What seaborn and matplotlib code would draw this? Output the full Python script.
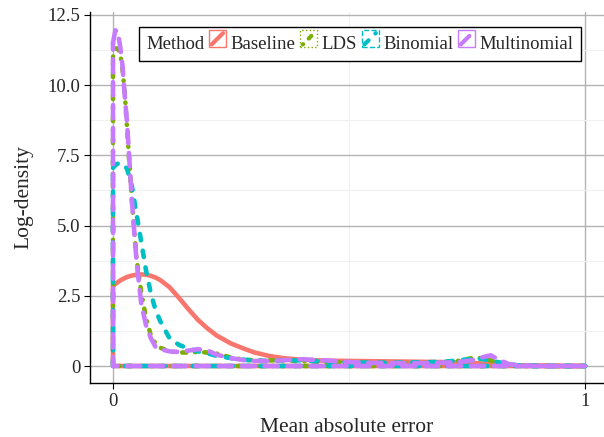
import numpy as np
import pandas as pd
import matplotlib
matplotlib.use("Agg")
import matplotlib.pyplot as plt
import seaborn as sns
from matplotlib.legend_handler import HandlerBase
from matplotlib.patches import Rectangle
from matplotlib.lines import Line2D

# density estimates, one value per grid point
mae_grid = [0, 0.005, 0.01, 0.015, 0.02, 0.025, 0.03, 0.04, 0.05, 0.06, 0.07, 0.08,
            0.09, 0.1, 0.12, 0.14, 0.16, 0.18, 0.2, 0.22, 0.25, 0.28, 0.3, 0.33, 0.36,
            0.4, 0.45, 0.5, 0.55, 0.6, 0.65, 0.7, 0.73, 0.76, 0.78, 0.8, 0.82, 0.84,
            0.86, 0.9, 0.95, 1.0]
baseline = [2.85, 2.92, 2.98, 3.04, 3.09, 3.13, 3.17, 3.22, 3.25, 3.26, 3.25, 3.21,
            3.15, 3.06, 2.8, 2.42, 2.02, 1.64, 1.34, 1.08, 0.8, 0.6, 0.48, 0.36, 0.28,
            0.22, 0.19, 0.18, 0.17, 0.16, 0.15, 0.14, 0.13, 0.11, 0.09, 0.07, 0.05, 0.03,
            0.02, 0.01, 0.0, 0.0]
lds = [11.0, 11.3, 11.3, 11.15, 10.6, 9.7, 8.4, 5.9, 3.8, 2.6, 1.7, 1.1,
       0.8, 0.65, 0.52, 0.48, 0.48, 0.5, 0.48, 0.44, 0.3, 0.22, 0.2, 0.2, 0.2,
       0.18, 0.14, 0.12, 0.11, 0.1, 0.1, 0.12, 0.18, 0.28, 0.28, 0.2, 0.12, 0.05,
       0.02, 0.0, 0.0, 0.0]
binomial = [7.05, 7.15, 7.2, 7.22, 7.2, 7.15, 7.0, 6.4, 5.4, 4.4, 3.4, 2.6,
            2.0, 1.6, 0.98, 0.75, 0.62, 0.52, 0.45, 0.36, 0.28, 0.22, 0.2, 0.18, 0.2,
            0.2, 0.16, 0.13, 0.12, 0.12, 0.13, 0.15, 0.2, 0.25, 0.25, 0.2, 0.12, 0.06,
            0.02, 0.0, 0.0, 0.0]
multinomial = [11.5, 11.95, 11.9, 11.4, 10.7, 9.6, 8.6, 5.9, 3.7, 2.2, 1.45, 1.0,
               0.68, 0.6, 0.52, 0.5, 0.55, 0.6, 0.55, 0.4, 0.28, 0.2, 0.18, 0.18, 0.2,
               0.24, 0.2, 0.14, 0.11, 0.1, 0.1, 0.12, 0.14, 0.2, 0.3, 0.38, 0.2, 0.06,
               0.02, 0.0, 0.0, 0.0]

methods = ["Baseline", "LDS", "Binomial", "Multinomial"]
colors = ["#F8766D", "#7CAE00", "#00BFC4", "#C77CFF"]
dash_styles = {"Baseline": "", "LDS": (0.1, 1.9, 0.9, 1.9),
               "Binomial": (1.4, 2.3), "Multinomial": (2.9, 2.1)}
key_edge = {"Baseline": "-", "LDS": ":", "Binomial": "--", "Multinomial": "-"}

# closed outline like ggplot's geom_density: curve, then back along y=0
rows = []
for m, dens in zip(methods, [baseline, lds, binomial, multinomial]):
    xs = list(mae_grid) + [mae_grid[-1], mae_grid[0], mae_grid[0]]
    ys = list(dens) + [0, 0, dens[0]]
    for i, (a, b) in enumerate(zip(xs, ys)):
        rows.append((m, i, a, b))
df = pd.DataFrame(rows, columns=["Method", "order", "mae", "density"])

sns.set_style("white")
plt.rcParams['font.family'] = ['Liberation Serif', 'DejaVu Serif']
plt.rcParams['lines.dash_capstyle'] = 'round'
plt.rcParams['lines.solid_capstyle'] = 'round'

fig = plt.figure(figsize=(6.04, 4.37), dpi=100)
ax = fig.add_axes([90 / 604, 1 - 383 / 437, 514 / 604, 371 / 437])

sns.lineplot(data=df, x="mae", y="density", hue="Method", style="Method",
             hue_order=methods, style_order=methods, palette=colors,
             dashes=dash_styles, sort=False, estimator=None, linewidth=3.3,
             legend=False, ax=ax)

ax.set_xlim(-0.0487, 1.04)
ax.set_ylim(-0.605, 12.6)
ax.set_xticks([0, 1])
ax.set_xticklabels(["0", "1"])
ax.set_xticks([0.5], minor=True)
ax.set_yticks([0, 2.5, 5, 7.5, 10, 12.5])
ax.set_yticklabels(["0", "2.5", "5.0", "7.5", "10.0", "12.5"])
ax.set_yticks([1.25, 3.75, 6.25, 8.75, 11.25], minor=True)
ax.grid(which="major", color="#b3b3b3", lw=1.0)
ax.grid(which="minor", color="#f0f0f0", lw=0.8)
ax.set_axisbelow(True)
for s in ["top", "right"]:
    ax.spines[s].set_visible(False)
for s in ["left", "bottom"]:
    ax.spines[s].set_color("black")
    ax.spines[s].set_linewidth(1.0)
ax.tick_params(which="major", length=4, width=0.8, color="black",
               labelsize=13.5, pad=3, left=True, bottom=True)
ax.tick_params(which="minor", length=0)
ax.set_xlabel("Mean absolute error", fontsize=15.5, labelpad=6)
ax.set_ylabel("Log-density", fontsize=15.5, labelpad=10)


class KeyHandler(HandlerBase):
    def create_artists(self, legend, orig, xd, yd, width, height, fontsize, trans):
        m = orig.get_label()
        rect = Rectangle((xd, yd), width, height, fill=False, edgecolor=orig.get_color(),
                         linewidth=1.0, linestyle=key_edge[m], transform=trans)
        diag = Line2D([xd + 2, xd + width - 2], [yd + 2, yd + height - 2],
                      color=orig.get_color(), lw=3.0, transform=trans)
        if dash_styles[m]:
            diag.set_dashes(dash_styles[m])
        return [rect, diag]


handles = [Line2D([], [], color=c, label=m) for m, c in zip(methods, colors)]
leg = ax.legend(handles, methods, title="Method", ncol=4, loc="upper center",
                bbox_to_anchor=(0.525, 0.96), borderaxespad=0, fontsize=13.5,
                title_fontsize=13.5, frameon=True, fancybox=False, framealpha=1,
                edgecolor="black", handlelength=0.9, handleheight=1.0,
                handletextpad=0.25, columnspacing=0.25, borderpad=0.4,
                handler_map={Line2D: KeyHandler()})
leg.get_frame().set_linewidth(1.0)
# put the legend title on the left of the keys, as ggplot does
box = leg.get_children()[0]
title_box, handle_box = box.get_children()
box._children = [handle_box]
handle_box._children = [title_box] + handle_box.get_children()

fig.savefig("out.png", dpi=100)
